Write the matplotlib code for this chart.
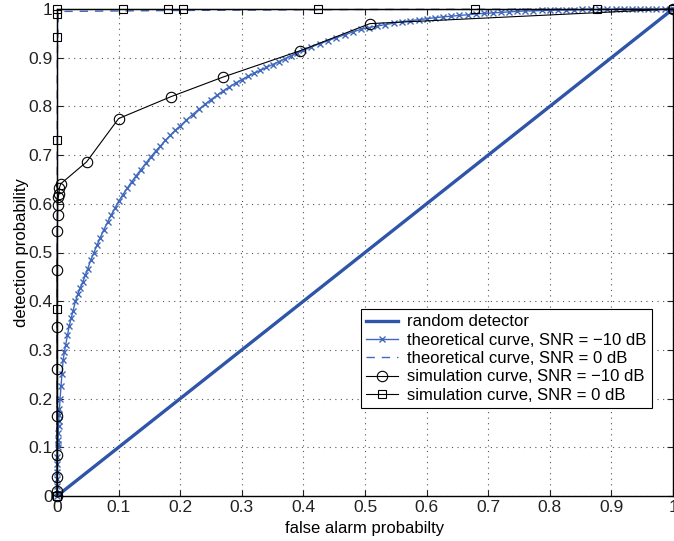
import matplotlib
matplotlib.use('Agg')
import matplotlib.pyplot as plt

plt.rcParams['font.family'] = ['Liberation Sans', 'DejaVu Sans']

blue = '#2e55a8'
xblue = '#4068bd'

# random detector
rand_pfa = [0, 1]
rand_pd = [0, 1]

# theoretical curve, SNR = -10 dB
th10_pfa = [0, 0.0001, 0.0002, 0.0003, 0.0005, 0.0007, 0.001, 0.0012, 0.0015, 0.002,
            0.0025, 0.003, 0.0035, 0.004, 0.005, 0.0065,
            0.008, 0.010, 0.012, 0.014, 0.017, 0.020, 0.023, 0.026, 0.030, 0.034,
            0.038, 0.042, 0.046, 0.050, 0.055, 0.060, 0.065, 0.070, 0.076, 0.082,
            0.088, 0.094, 0.100,
            0.107, 0.114, 0.121, 0.128, 0.136, 0.144, 0.152, 0.160, 0.168, 0.176,
            0.184, 0.192, 0.200,
            0.21, 0.22, 0.23, 0.24, 0.25, 0.26, 0.27, 0.28, 0.29, 0.30,
            0.31, 0.32, 0.33, 0.34, 0.35, 0.36, 0.37, 0.38, 0.39, 0.40,
            0.413, 0.427, 0.44, 0.453, 0.467, 0.48, 0.493, 0.507, 0.52, 0.533,
            0.547, 0.56, 0.573, 0.587, 0.6, 0.613, 0.627, 0.64, 0.653, 0.667,
            0.68, 0.693, 0.707, 0.72, 0.733, 0.747, 0.76, 0.773, 0.787, 0.8,
            0.813, 0.827, 0.84, 0.853, 0.867, 0.88, 0.893, 0.907, 0.92, 0.933,
            0.947, 0.96, 0.973, 0.987, 1.0]
th10_pd = [0, 0.02, 0.035, 0.05, 0.065, 0.08, 0.10, 0.106, 0.115, 0.13,
           0.143, 0.155, 0.167, 0.178, 0.20, 0.225,
           0.25, 0.28, 0.295, 0.31, 0.33, 0.35, 0.365, 0.38, 0.40, 0.415,
           0.428, 0.44, 0.453, 0.467, 0.485, 0.50, 0.515, 0.53, 0.547, 0.562,
           0.577, 0.591, 0.605,
           0.619, 0.632, 0.645, 0.657, 0.670, 0.683, 0.696, 0.708, 0.719, 0.730,
           0.741, 0.751, 0.760,
           0.772, 0.783, 0.794, 0.804, 0.814, 0.823, 0.832, 0.840, 0.848, 0.855,
           0.862, 0.868, 0.874, 0.880, 0.886, 0.892, 0.898, 0.904, 0.910, 0.915,
           0.922, 0.929, 0.935, 0.941, 0.947, 0.953, 0.958, 0.962, 0.965, 0.968,
           0.971, 0.974, 0.976, 0.978, 0.980, 0.982, 0.984, 0.985, 0.987, 0.988,
           0.990, 0.991, 0.992, 0.993, 0.994, 0.995, 0.996, 0.996, 0.997, 0.997,
           0.998, 0.998, 0.998, 0.999, 0.999, 0.999, 0.999, 1.0, 1.0, 1.0,
           1.0, 1.0, 1.0, 1.0, 1.0]

# theoretical curve, SNR = 0 dB
th0_pfa = [0, 0.0005, 0.002, 0.01, 0.2, 0.5, 1.0]
th0_pd = [0, 0.90, 0.99, 0.995, 0.997, 0.999, 1.0]

# simulation curve, SNR = -10 dB
sim10_pfa = [0, 0, 0, 0, 0, 0, 0, 0, 0.0005, 0.001, 0.001, 0.002, 0.003, 0.004,
             0.006, 0.048, 0.100, 0.185, 0.269, 0.394, 0.508, 1.0]
sim10_pd = [0, 0.01, 0.04, 0.085, 0.165, 0.26, 0.348, 0.464, 0.545, 0.578, 0.597,
            0.613, 0.62, 0.633, 0.641, 0.686, 0.775, 0.82, 0.86, 0.914, 0.97, 1.0]

# simulation curve, SNR = 0 dB
sim0_pfa = [0, 0, 0, 0, 0, 0, 0.107, 0.18, 0.204, 0.424, 0.679, 0.877, 1.0]
sim0_pd = [0, 0.383, 0.73, 0.942, 0.99, 1.0, 1.0, 1.0, 1.0, 1.0, 1.0, 1.0, 1.0]

fig = plt.figure(figsize=(6.74, 5.41), dpi=100)
ax = fig.add_axes([57/674, 45/541, 616/674, 487/541])

ax.plot(rand_pfa, rand_pd, color=blue, lw=2.4, label='random detector',
        clip_on=False)
ax.plot(th10_pfa, th10_pd, color=xblue, lw=1.0, marker='x', markersize=5,
        markeredgewidth=1.0, label='theoretical curve, SNR = \u221210 dB',
        clip_on=False)
ax.plot(th0_pfa, th0_pd, color=xblue, lw=1.0, ls=(0, (6, 5)),
        label='theoretical curve, SNR = 0 dB', clip_on=False)
ax.plot(sim10_pfa, sim10_pd, color='k', lw=0.8, marker='o', markersize=7.5,
        mfc='none', mec='k', markeredgewidth=0.8,
        label='simulation curve, SNR = \u221210 dB', clip_on=False)
ax.plot(sim0_pfa, sim0_pd, color='k', lw=0.8, marker='s', markersize=6,
        mfc='none', mec='k', markeredgewidth=0.8,
        label='simulation curve, SNR = 0 dB', clip_on=False)

ax.set_xlim(0, 1)
ax.set_ylim(0, 1)
ticks = [0, 0.1, 0.2, 0.3, 0.4, 0.5, 0.6, 0.7, 0.8, 0.9, 1]
labs = ['0', '0.1', '0.2', '0.3', '0.4', '0.5', '0.6', '0.7', '0.8', '0.9', '1']
ax.set_xticks(ticks)
ax.set_xticklabels(labs)
ax.set_yticks(ticks)
ax.set_yticklabels(labs)
ax.tick_params(direction='in', top=True, right=True, labelsize=12.5,
               length=4, width=0.8, colors='#222222', pad=3)
ax.grid(True, color='#555555', ls=(0, (1, 4)), lw=0.8)
for s in ax.spines.values():
    s.set_linewidth(1.0)

ax.set_xlabel('false alarm probabilty', fontsize=12, labelpad=4)
ax.set_ylabel('detection probability', fontsize=12, labelpad=0)

leg = ax.legend(loc='upper left', bbox_to_anchor=(0.494, 0.383), fontsize=12,
                frameon=True, fancybox=False, edgecolor='k', framealpha=1,
                handlelength=1.9, handletextpad=0.55, labelspacing=0.2,
                borderpad=0.3, borderaxespad=0)
leg.get_frame().set_linewidth(0.8)

fig.savefig('out.png', dpi=100)
